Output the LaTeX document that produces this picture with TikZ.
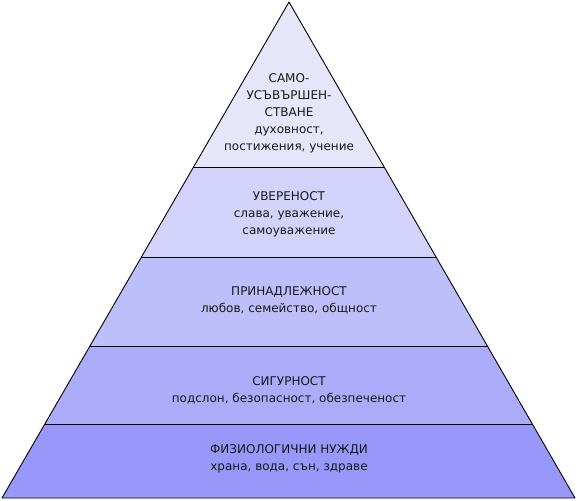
\documentclass[tikz,border=0pt]{standalone}
\usepackage{fontspec}
\setmainfont{DejaVu Sans}
\usetikzlibrary{calc}

\definecolor{tierA}{RGB}{230,230,250}
\definecolor{tierB}{RGB}{210,210,250}
\definecolor{tierC}{RGB}{190,190,250}
\definecolor{tierD}{RGB}{171,171,250}
\definecolor{tierE}{RGB}{152,152,250}

\begin{document}
\begin{tikzpicture}[
    x=1pt, y=-1pt,
    edge/.style={draw=black, line width=0.9pt, line join=round},
    tiertext/.style={align=center, text=black!90, inner sep=0pt,
      font=\fontsize{12}{17}\selectfont}
  ]
  \useasboundingbox (0,0) rectangle (577,500);

  \coordinate (apex)  at (289,2);
  \coordinate (baseL) at (2,498);
  \coordinate (baseR) at (575,498);

  % tier boundaries on both sides
  \coordinate (l1) at ($(apex)!0.3327!(baseL)$);
  \coordinate (r1) at ($(apex)!0.3327!(baseR)$);
  \coordinate (l2) at ($(apex)!0.5141!(baseL)$);
  \coordinate (r2) at ($(apex)!0.5141!(baseR)$);
  \coordinate (l3) at ($(apex)!0.6935!(baseL)$);
  \coordinate (r3) at ($(apex)!0.6935!(baseR)$);
  \coordinate (l4) at ($(apex)!0.8508!(baseL)$);
  \coordinate (r4) at ($(apex)!0.8508!(baseR)$);

  % fills
  \fill[tierA] (apex) -- (r1) -- (l1) -- cycle;
  \fill[tierB] (l1) -- (r1) -- (r2) -- (l2) -- cycle;
  \fill[tierC] (l2) -- (r2) -- (r3) -- (l3) -- cycle;
  \fill[tierD] (l3) -- (r3) -- (r4) -- (l4) -- cycle;
  \fill[tierE] (l4) -- (r4) -- (baseR) -- (baseL) -- cycle;

  % outline
  \draw[edge] (apex) -- (baseR) -- (baseL) -- cycle;
  \draw[edge] (l1) -- (r1);
  \draw[edge] (l2) -- (r2);
  \draw[edge] (l3) -- (r3);
  \draw[edge] (l4) -- (r4);

  \node[tiertext] (self)   at (289,113) {САМО-\\УСЪВЪРШЕН-\\СТВАНЕ\\духовност,\\постижения, учение};
  \node[tiertext] (esteem) at (289,214) {УВЕРЕНОСТ\\слава, уважение,\\самоуважение};
  \node[tiertext] (belong) at (289,300) {ПРИНАДЛЕЖНОСТ\\любов, семейство, общност};
  \node[tiertext] (safety) at (289,390) {СИГУРНОСТ\\подслон, безопасност, обезпеченост};
  \node[tiertext] (body)   at (289,459) {ФИЗИОЛОГИЧНИ НУЖДИ\\храна, вода, сън, здраве};
\end{tikzpicture}
\end{document}
